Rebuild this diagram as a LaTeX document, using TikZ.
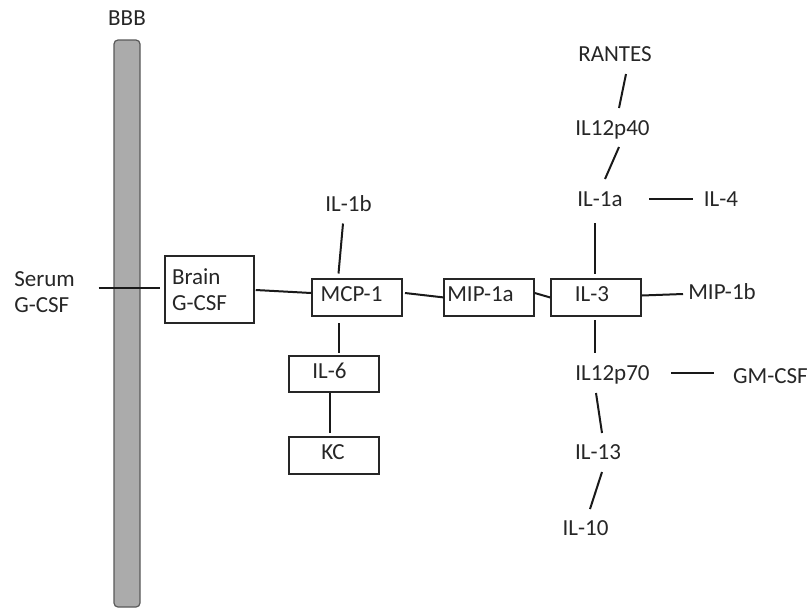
\documentclass[tikz,border=0pt]{standalone}
\usepackage{fontspec}
\setmainfont{Carlito}
% one drawing unit = one pixel of the layout grid
\newdimen\px \px=0.75pt
% box label nudged to the left by #1 units
\newcommand\boxlabel[2]{#2\kern#1\px\kern#1\px}

\begin{document}
\begin{tikzpicture}[x=0.75pt,y=-0.75pt,
  every node/.style={font=\fontsize{17.25pt}{19.5pt}\selectfont, text=black!85},
  lbl/.style={inner sep=0pt, text height=0.644em, text depth=0pt},
  cbox/.style={draw=black!85, line width=1.1pt, inner sep=0pt,
               minimum width=90\px, minimum height=37\px,
               text height=0.644em, text depth=0pt},
  link/.style={draw=black!90, line width=1.5pt}]
\useasboundingbox (0,0) rectangle (812,608);

% blood-brain barrier
\node[draw=black!65, fill=black!33, line width=0.9pt, rounded corners=4\px,
      minimum width=26\px, minimum height=567\px, inner sep=0pt] (bbbbar) at (127,323.5) {};
\node[lbl] (bbb) at (127,21) {BBB};

% serum / brain G-CSF
\node[inner sep=0pt, align=left, anchor=west] (serum) at (14,292.5) {Serum\\G-CSF};
\node[draw=black!85, line width=1.1pt, align=left, text width=75\px, inner xsep=7\px,
      inner ysep=0pt, minimum height=67\px] (brain) at (209.5,289.5) {Brain\\G-CSF};

% boxed cytokines
\node[cbox] (mcp1)  at (357,297.5) {\boxlabel{5.5}{MCP-1}};
\node[cbox] (mip1a) at (489,297.5) {\boxlabel{8.5}{MIP-1a}};
\node[cbox] (il3)   at (596,297.5) {\boxlabel{4}{IL-3}};
\node[cbox, minimum height=36\px] (il6) at (334,374) {\boxlabel{4.5}{IL-6}};
\node[cbox] (kc)    at (334,455.5) {\boxlabel{1}{KC}};

% free-standing cytokines
\node[lbl] (il1b)    at (348.5,207)  {IL-1b};
\node[lbl] (rantes)  at (615,57)     {RANTES};
\node[lbl] (il12p40) at (612.5,131)  {IL12p40};
\node[lbl] (il1a)    at (600,202)    {IL-1a};
\node[lbl] (il4)     at (721,202)    {IL-4};
\node[lbl] (mip1b)   at (722,295)    {MIP-1b};
\node[lbl] (il12p70) at (612.5,376)  {IL12p70};
\node[lbl] (gmcsf)   at (770.5,379)  {GM-CSF};
\node[lbl] (il13)    at (598,455)    {IL-13};
\node[lbl] (il10)    at (585.5,531)  {IL-10};

% connections
\draw[link] ([shift={(23.5,-4.5)}]serum.east) -- ([shift={(-4,-1.5)}]brain.west);
\draw[link] ([shift={(1,0.5)}]brain.east) -- ([shift={(0,-4.5)}]mcp1.west);
\draw[link] ([shift={(-5.5,16.5)}]il1b.center) -- ([shift={(-18.5,-24)}]mcp1.center);
\draw[link] ([shift={(-18,25.5)}]mcp1.center) -- ([shift={(5,-21)}]il6.center);
\draw[link] ([shift={(-4,19)}]il6.center) -- ([shift={(-4,-22.5)}]kc.center);
\draw[link] ([shift={(48,-4.5)}]mcp1.center) -- ([shift={(1,0)}]mip1a.west);
\draw[link] ([shift={(0,-4.5)}]mip1a.east) -- (il3.west);
\draw[link] ([shift={(0,-2)}]il3.east) -- ([shift={(-39,-1)}]mip1b.center);
\draw[link] ([shift={(-5,21)}]il1a.center) -- ([shift={(-1,-23.5)}]il3.center);
\draw[link] ([shift={(-1,22.5)}]il3.center) -- ([shift={(-17.5,-23)}]il12p70.center);
\draw[link] ([shift={(11,17)}]rantes.center) -- ([shift={(6.5,-23)}]il12p40.center);
\draw[link] ([shift={(6.5,16)}]il12p40.center) -- ([shift={(5,-23)}]il1a.center);
\draw[link] ([shift={(49,-3)}]il1a.center) -- ([shift={(-28,-3)}]il4.center);
\draw[link] ([shift={(58.5,-3)}]il12p70.center) -- ([shift={(-56.5,-6)}]gmcsf.center);
\draw[link] ([shift={(-16.5,17)}]il12p70.center) -- ([shift={(4,-22)}]il13.center);
\draw[link] ([shift={(4,17)}]il13.center) -- ([shift={(4.5,-22)}]il10.center);
\end{tikzpicture}
\end{document}
